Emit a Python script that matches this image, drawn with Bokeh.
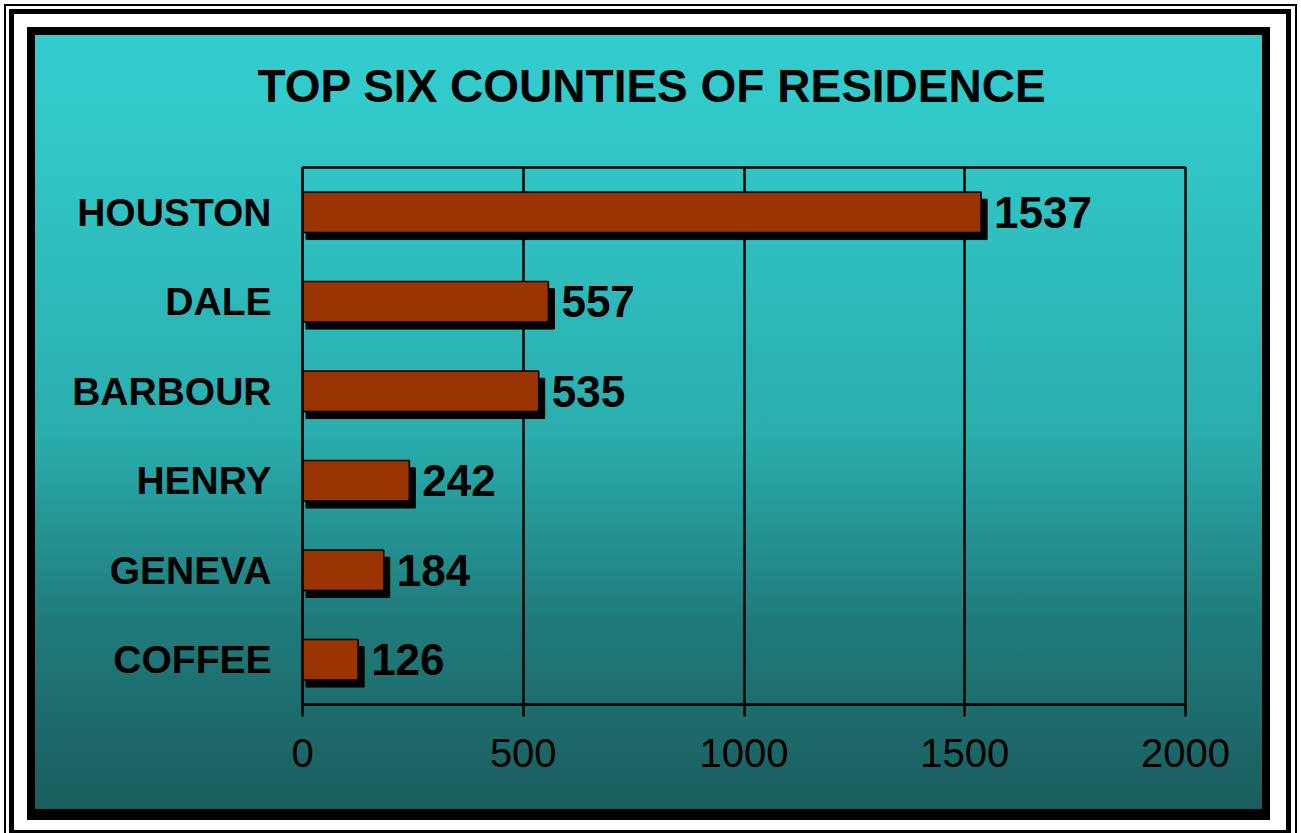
from bokeh.plotting import figure
from bokeh.models import ColumnDataSource, Range1d, FactorRange, FixedTicker
from bokeh.transform import dodge
from bokeh.embed import file_html
from bokeh.resources import INLINE
from bokeh.core.properties import value

# ---- data ----
counties = ["HOUSTON", "DALE", "BARBOUR", "HENRY", "GENEVA", "COFFEE"]
residents = [1537, 557, 535, 242, 184, 126]
x_ticks = [0, 500, 1000, 1500, 2000]
title_text = "TOP SIX COUNTIES OF RESIDENCE"

FONT = "Liberation Sans"
W, H = 1301, 833

src = ColumnDataSource(dict(county=counties, value=residents,
                            label=[str(v) for v in residents]))

p = figure(width=W, height=H, output_backend="svg", toolbar_location=None,
           tools="", y_range=FactorRange(*counties[::-1]),
           x_range=Range1d(0, 2000),
           min_border_left=302, min_border_right=W - 1185,
           min_border_top=167, min_border_bottom=H - 704)
p.border_fill_alpha = 0
p.background_fill_alpha = 0
p.outline_line_color = "black"
p.outline_line_width = 2.5

# ---- decorative frame + gradient panel (CSS background of the figure) ----
layers = [
    "linear-gradient(to bottom, #33cccc 0px, #32c9c9 90px, #2aadad 400px, "
    "#207b7b 585px, #1b5d5d 774px) 35px 35px / 1227px 774px no-repeat",
    "linear-gradient(#000, #000) 27px 27px / 1243px 793px no-repeat",
    "linear-gradient(#fff, #fff) 14px 14px / 1272px 816px no-repeat",
    "linear-gradient(#000, #000) 9px 9px / 1282px 830px no-repeat",
    "linear-gradient(#fff, #fff) 6px 6px / 1289px 840px no-repeat",
    "linear-gradient(#000, #000) 4px 4px / 1293px 840px no-repeat",
    "#ffffff",
]
p.styles = {"background": ", ".join(layers)}

# ---- bars ----
p.hbar(y=dodge("county", -0.08, range=p.y_range), left=8,
       right=dodge("value", 13.6), height=0.45, source=src,
       fill_color="black", line_color="black")
p.hbar(y="county", left=0, right="value", height=0.45, source=src,
       fill_color="#993300", line_color="black", line_width=1.5)
p.text(x="value", y="county", text="label", source=src, x_offset=13, y_offset=0,
       text_font=value(FONT), text_font_style="bold", text_font_size="44px",
       text_baseline="middle", text_align="left", text_color="black")

# ---- axes / grid ----
p.ygrid.visible = False
p.xgrid.grid_line_color = "black"
p.xgrid.grid_line_width = 2.5
p.xaxis.ticker = FixedTicker(ticks=x_ticks)
p.xaxis.minor_tick_line_color = None
p.xaxis.major_tick_in = 0
p.xaxis.major_tick_out = 12
p.xaxis.major_tick_line_width = 2.5
p.xaxis.axis_line_width = 2.5
p.xaxis.major_label_text_font = FONT
p.xaxis.major_label_text_font_size = "40px"
p.xaxis.major_label_text_color = "black"
p.xaxis.major_label_standoff = 22

p.yaxis.major_tick_in = 0
p.yaxis.major_tick_out = 0
p.yaxis.axis_line_width = 2.5
p.yaxis.major_label_text_font = FONT
p.yaxis.major_label_text_font_style = "bold"
p.yaxis.major_label_text_font_size = "39px"
p.yaxis.major_label_text_color = "black"
p.yaxis.major_label_standoff = 31

# ---- title ----
p.title.text = title_text
p.title.align = "left"
p.title.offset = -45
p.title.standoff = 111
p.title.text_font = FONT
p.title.text_font_style = "bold"
p.title.text_font_size = "46px"
p.title.text_color = "black"

open("out.html", "w").write(file_html(p, INLINE))
